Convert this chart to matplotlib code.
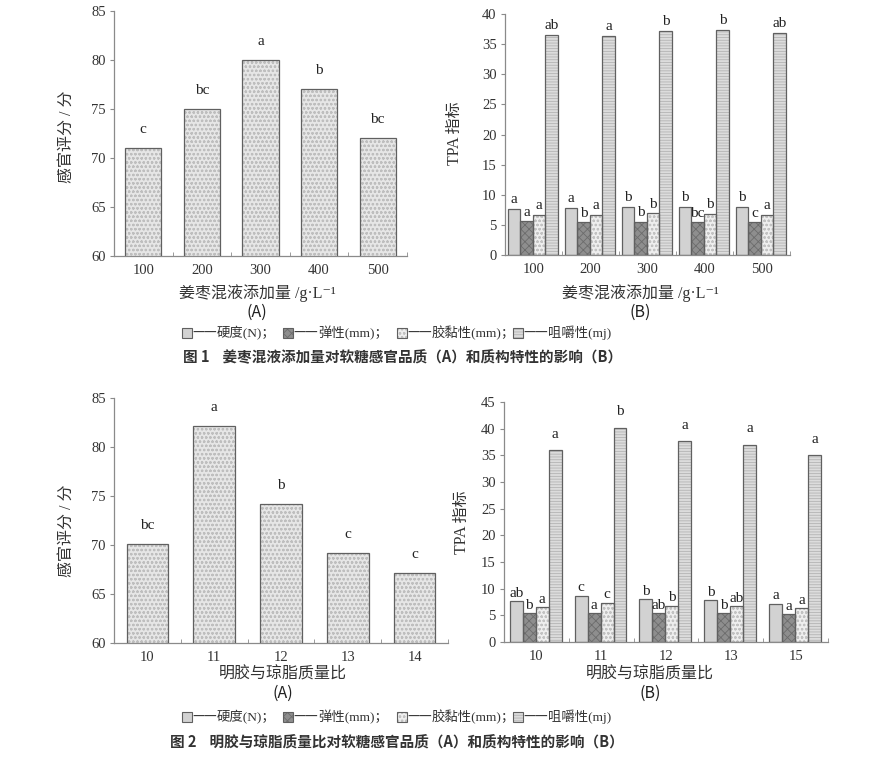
import numpy as np
import matplotlib
matplotlib.use("Agg")
import matplotlib.pyplot as plt
from matplotlib.patches import Rectangle
from matplotlib.ticker import FixedLocator

SERIF = ["Liberation Serif", "DejaVu Serif", "Noto Sans CJK SC"]
SANS = ["Noto Sans CJK SC", "DejaVu Sans"]
plt.rcParams["font.family"] = SERIF
plt.rcParams["hatch.linewidth"] = 0.6

OUT_FILE = "out.png"
W, H = 896, 757

# ---- Figure 1: ginger-jujube liquid addition ----
fig1_cats = ["100", "200", "300", "400", "500"]
fig1_score = [71.0, 75.0, 80.0, 77.0, 72.0]
fig1_score_sig = ["c", "bc", "a", "b", "bc"]

fig1_hardness = [7.7, 7.8, 8.0, 8.0, 8.0]
fig1_springiness = [5.6, 5.4, 5.5, 5.4, 5.4]
fig1_gumminess = [6.7, 6.7, 6.9, 6.8, 6.7]
fig1_chewiness = [36.5, 36.4, 37.2, 37.4, 36.8]
fig1_hardness_sig = ["a", "a", "b", "b", "b"]
fig1_springiness_sig = ["a", "b", "b", "bc", "c"]
fig1_gumminess_sig = ["a", "a", "b", "b", "a"]
fig1_chewiness_sig = ["ab", "a", "b", "b", "ab"]

# ---- Figure 2: gelatin / agar mass ratio ----
fig2_cats_a = ["10", "11", "12", "13", "14"]
fig2_score = [70.1, 82.1, 74.2, 69.2, 67.1]
fig2_score_sig = ["bc", "a", "b", "c", "c"]

fig2_cats_b = ["10", "11", "12", "13", "15"]
fig2_hardness = [7.6, 8.7, 8.0, 7.8, 7.2]
fig2_springiness = [5.4, 5.4, 5.4, 5.4, 5.2]
fig2_gumminess = [6.5, 7.4, 6.8, 6.7, 6.3]
fig2_chewiness = [36.0, 40.2, 37.6, 37.0, 35.0]
fig2_hardness_sig = ["ab", "c", "b", "b", "a"]
fig2_springiness_sig = ["b", "a", "ab", "b", "a"]
fig2_gumminess_sig = ["a", "c", "b", "ab", "a"]
fig2_chewiness_sig = ["a", "b", "a", "a", "a"]

tpa_names = ["硬度(N)", "弹性(mm)", "胶黏性(mm)", "咀嚼性(mj)"]

xlabel1 = "姜枣混液添加量 /g·L⁻¹"
xlabel2 = "明胶与琼脂质量比"
ylabel_score = "感官评分 / 分"
ylabel_tpa = "TPA 指标"
caption1 = "图 1    姜枣混液添加量对软糖感官品质（A）和质构特性的影响（B）"
caption2 = "图 2    明胶与琼脂质量比对软糖感官品质（A）和质构特性的影响（B）"

SCORE_STYLE = dict(fc="#e6e6e6", hatch="oooo", hc="#bebebe")
TPA_STYLES = [
    dict(fc="#d2d2d2", hatch=None, hc="#d2d2d2"),
    dict(fc="#8e8e8e", hatch="xxxx", hc="#6c6c6c"),
    dict(fc="#eeeeee", hatch="oooo", hc="#c2c2c2"),
    dict(fc="#dcdcdc", hatch="------", hc="#b4b4b4"),
]
EDGE = "#606060"
SPINE = "#8a8a8a"


def px_axes(fig, left, top, right, bottom):
    return fig.add_axes([left / W, 1 - bottom / H, (right - left) / W, (bottom - top) / H])


def styled_bars(ax, x, h, width, style):
    ax.bar(x, h, width, color=style["fc"], hatch=style["hatch"],
           edgecolor=style["hc"], linewidth=0, zorder=2)
    ax.bar(x, h, width, fill=False, edgecolor=EDGE, linewidth=0.9, zorder=3)


def base_axes(ax, cats, ymin, ymax, ystep):
    n = len(cats)
    ax.set_xlim(-0.5, n - 0.5)
    ax.set_ylim(ymin, ymax)
    ax.set_yticks(np.arange(ymin, ymax + 0.1, ystep))
    ax.set_xticks(np.arange(n))
    ax.set_xticklabels(cats)
    ax.xaxis.set_minor_locator(FixedLocator(np.arange(n + 1) - 0.5))
    ax.tick_params(axis="x", which="major", length=0, pad=6, labelsize=10.5, colors="#333333")
    ax.tick_params(axis="x", which="minor", length=3, direction="in", color=SPINE)
    ax.tick_params(axis="y", length=3, direction="out", pad=3, labelsize=10.5,
                   colors="#333333", color=SPINE)
    for s in ["top", "right"]:
        ax.spines[s].set_visible(False)
    for s in ["left", "bottom"]:
        ax.spines[s].set_color(SPINE)
        ax.spines[s].set_linewidth(0.9)


def set_labels(ax, xlab, lab_pos, ylab, ylab_pos, tag, tag_y):
    ax.set_xlabel(xlab, fontsize=11.5, color="#333333")
    ax.xaxis.label.set_verticalalignment("center")
    ax.xaxis.set_label_coords(*lab_pos)
    ax.set_ylabel(ylab, fontsize=11.5, color="#333333")
    ax.yaxis.label.set_verticalalignment("center")
    ax.yaxis.set_label_coords(*ylab_pos)
    ax.text(lab_pos[0], tag_y, tag, transform=ax.transAxes, ha="center", va="center",
            fontsize=11.5, family=SANS, color="#222222")


def plot_score(ax, cats, values, sig, xlab, lab_pos, tag_y, ylab_pos):
    x = np.arange(len(cats))
    base_axes(ax, cats, 60, 85, 5)
    styled_bars(ax, x, values, 0.62, SCORE_STYLE)
    for xi, v, s in zip(x, values, sig):
        ax.text(xi, v + 1.9, s, ha="center", va="center", fontsize=11, color="#222222")
    set_labels(ax, xlab, lab_pos, ylabel_score, ylab_pos, "(A)", tag_y)


def plot_tpa(ax, cats, series, sigs, ymax, width, chew_off, xlab, lab_pos, tag_y, ylab_pos):
    x = np.arange(len(cats))
    base_axes(ax, cats, 0, ymax, 5)
    for i, (vals, sg, st) in enumerate(zip(series, sigs, TPA_STYLES)):
        xs = x + (i - 1.5) * width - 0.01
        styled_bars(ax, xs, vals, width, st)
        off = chew_off if i == 3 else 1.5
        for xi, v, s in zip(xs, vals, sg):
            ax.text(xi, v + off, s, ha="center", va="center", fontsize=11, color="#222222")
    set_labels(ax, xlab, lab_pos, ylabel_tpa, ylab_pos, "(B)", tag_y)


def draw_legend(fig, y_px):
    box_x = [182, 283, 397, 513]
    for k, (bx, name, st) in enumerate(zip(box_x, tpa_names, TPA_STYLES)):
        y0 = 1 - (y_px + 5) / H
        fig.add_artist(Rectangle((bx / W, y0), 10 / W, 10 / H, transform=fig.transFigure,
                                 facecolor=st["fc"], hatch=st["hatch"], edgecolor=st["hc"],
                                 linewidth=0))
        fig.add_artist(Rectangle((bx / W, y0), 10 / W, 10 / H, transform=fig.transFigure,
                                 fill=False, edgecolor=EDGE, linewidth=0.8))
        fig.text((bx + 10) / W, 1 - y_px / H, "——", ha="left", va="center",
                 fontsize=10, family=SANS, color="#333333")
        label = name + ("；" if k < len(tpa_names) - 1 else "")
        fig.text((bx + 35) / W, 1 - y_px / H, label,
                 ha="left", va="center", fontsize=9.6, color="#333333")


fig = plt.figure(figsize=(W / 100, H / 100), dpi=100)

ax1 = px_axes(fig, 114, 11, 407, 256)
plot_score(ax1, fig1_cats, fig1_score, fig1_score_sig, xlabel1,
           (0.488, -0.151), -0.229, (-0.16, 0.486))

ax2 = px_axes(fig, 505, 14, 790, 255)
plot_tpa(ax2, fig1_cats,
         [fig1_hardness, fig1_springiness, fig1_gumminess, fig1_chewiness],
         [fig1_hardness_sig, fig1_springiness_sig, fig1_gumminess_sig, fig1_chewiness_sig],
         40, 0.22, 1.6, xlabel1, (0.474, -0.158), -0.237, (-0.175, 0.506))

ax3 = px_axes(fig, 114, 398, 448, 643)
plot_score(ax3, fig2_cats_a, fig2_score, fig2_score_sig, xlabel2,
           (0.506, -0.13), -0.204, (-0.14, 0.46))

ax4 = px_axes(fig, 504, 402, 828, 642)
plot_tpa(ax4, fig2_cats_b,
         [fig2_hardness, fig2_springiness, fig2_gumminess, fig2_chewiness],
         [fig2_hardness_sig, fig2_springiness_sig, fig2_gumminess_sig, fig2_chewiness_sig],
         45, 0.2, 3.0, xlabel2, (0.45, -0.1375), -0.2125, (-0.13, 0.5))

draw_legend(fig, 333)
draw_legend(fig, 717)

fig.text(403 / W, 1 - 357 / H, caption1, ha="center", va="center", fontsize=10.5,
         family=SANS, weight="bold", color="#333333")
fig.text(397 / W, 1 - 743 / H, caption2, ha="center", va="center", fontsize=10.5,
         family=SANS, weight="bold", color="#333333")

fig.savefig(OUT_FILE, dpi=100)
